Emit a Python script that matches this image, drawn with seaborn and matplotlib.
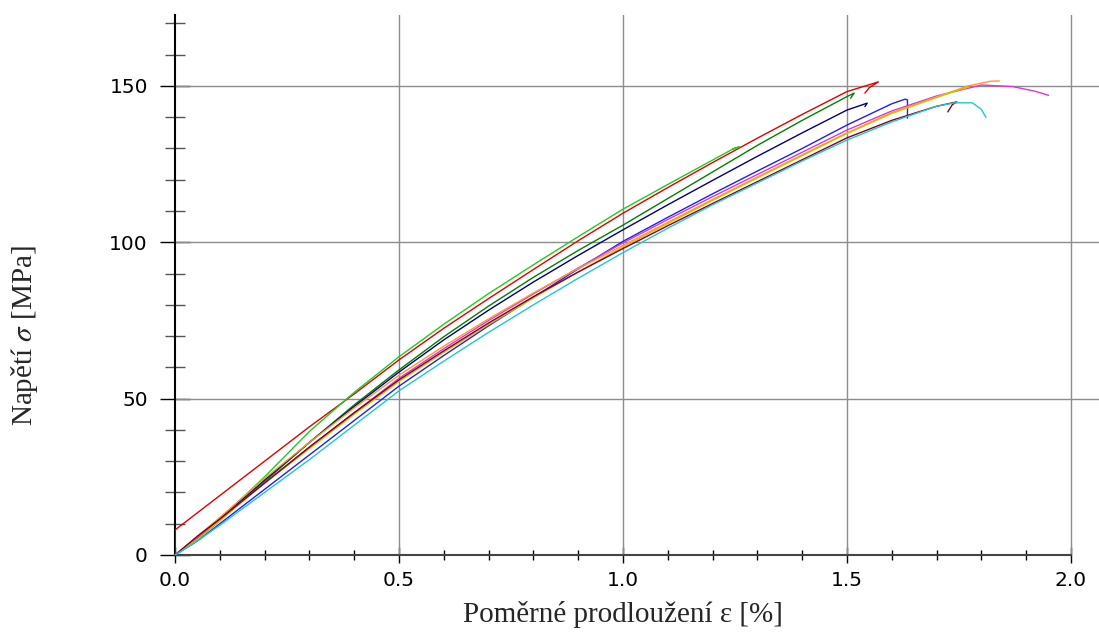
import numpy as np
import pandas as pd
import matplotlib
matplotlib.use("Agg")
import matplotlib.pyplot as plt
import seaborn as sns

# Odečtené hodnoty z grafu: poměrné prodloužení [%] a napětí [MPa]
red_eps = [0.0, 0.0, 0.05, 0.1, 0.15, 0.2, 0.3, 0.4, 0.5, 0.6, 0.7, 0.8, 0.9, 1.0, 1.1, 1.2, 1.3, 1.4, 1.5, 1.57, 1.55, 1.54]
red_sig = [0.0, 8.0, 13.5, 19.0, 24.5, 30.0, 41.0, 51.5, 62.4, 72.5, 82.0, 91.3, 100.5, 109.3, 117.5, 125.5, 133.3, 140.9, 148.2, 151.3, 149.5, 147.7]

lime_eps = [0.0, 0.05, 0.1, 0.2, 0.3, 0.4, 0.5, 0.6, 0.7, 0.8, 0.9, 1.0, 1.1, 1.2, 1.25, 1.26, 1.245]
lime_sig = [0.0, 5.0, 11.5, 25.0, 39.5, 52.0, 63.4, 73.8, 83.6, 92.8, 101.8, 110.6, 118.5, 126.3, 130.2, 130.5, 129.8]

green_eps = [0.0, 0.05, 0.1, 0.2, 0.3, 0.4, 0.5, 0.6, 0.7, 0.8, 0.9, 1.0, 1.1, 1.2, 1.3, 1.4, 1.5, 1.516, 1.508]
green_sig = [0.0, 5.0, 11.0, 23.5, 36.0, 48.0, 59.2, 69.8, 79.6, 88.8, 97.4, 105.5, 114.0, 122.5, 131.0, 139.0, 146.6, 147.7, 146.1]

navy_eps = [0.0, 0.05, 0.1, 0.2, 0.3, 0.4, 0.5, 0.6, 0.7, 0.8, 0.9, 1.0, 1.1, 1.2, 1.3, 1.4, 1.5, 1.545, 1.54]
navy_sig = [0.0, 5.5, 11.5, 24.0, 36.0, 47.5, 58.5, 68.8, 78.3, 87.3, 95.8, 104.0, 112.0, 119.8, 127.5, 135.0, 142.3, 144.5, 143.4]

blue_eps = [0.0, 0.05, 0.1, 0.2, 0.3, 0.4, 0.5, 0.6, 0.7, 0.8, 0.9, 1.0, 1.1, 1.2, 1.3, 1.4, 1.5, 1.6, 1.63, 1.635, 1.635]
blue_sig = [0.0, 4.5, 10.0, 21.0, 32.0, 43.0, 54.0, 63.8, 73.3, 82.4, 91.5, 100.3, 108.0, 115.5, 122.8, 130.0, 137.5, 144.3, 145.8, 145.5, 139.7]

magenta_eps = [0.0, 0.05, 0.1, 0.2, 0.3, 0.4, 0.5, 0.6, 0.7, 0.8, 0.9, 1.0, 1.1, 1.2, 1.3, 1.4, 1.5, 1.6, 1.7, 1.8, 1.87, 1.92, 1.95]
magenta_sig = [0.0, 5.5, 11.5, 23.0, 34.5, 45.5, 56.5, 66.0, 75.0, 83.5, 91.8, 99.8, 107.3, 114.6, 121.7, 128.8, 135.9, 142.0, 146.8, 150.3, 149.8, 148.3, 147.0]

orange_eps = [0.0, 0.05, 0.1, 0.2, 0.3, 0.4, 0.5, 0.6, 0.7, 0.8, 0.9, 1.0, 1.1, 1.2, 1.3, 1.4, 1.5, 1.6, 1.7, 1.77, 1.82, 1.84]
orange_sig = [0.0, 6.0, 12.0, 24.5, 36.0, 47.0, 57.5, 66.8, 75.5, 83.8, 91.6, 99.0, 106.4, 113.7, 120.9, 128.0, 135.0, 141.5, 146.5, 150.0, 151.5, 151.6]

yellow_eps = [0.0, 0.05, 0.1, 0.2, 0.3, 0.4, 0.5, 0.6, 0.7, 0.8, 0.9, 1.0, 1.1, 1.2, 1.3, 1.4, 1.5, 1.6, 1.7, 1.77, 1.76]
yellow_sig = [0.0, 5.0, 11.0, 23.0, 34.0, 45.0, 55.5, 64.8, 73.7, 82.2, 90.5, 98.5, 106.0, 113.4, 120.6, 127.7, 134.8, 141.2, 146.3, 149.7, 149.0]

maroon_eps = [0.0, 0.05, 0.1, 0.2, 0.3, 0.4, 0.5, 0.6, 0.7, 0.8, 0.9, 1.0, 1.1, 1.2, 1.3, 1.4, 1.5, 1.6, 1.7, 1.745, 1.735, 1.725]
maroon_sig = [0.0, 6.0, 11.5, 23.0, 34.5, 45.5, 56.0, 65.3, 74.2, 82.6, 90.5, 98.0, 105.3, 112.4, 119.4, 126.4, 133.4, 139.0, 143.5, 144.9, 144.0, 141.7]

cyan_eps = [0.0, 0.05, 0.1, 0.2, 0.3, 0.4, 0.5, 0.6, 0.7, 0.8, 0.9, 1.0, 1.1, 1.2, 1.3, 1.4, 1.5, 1.6, 1.7, 1.74, 1.78, 1.8, 1.81]
cyan_sig = [0.0, 4.5, 9.5, 20.0, 30.5, 41.5, 52.5, 62.0, 71.2, 80.0, 88.5, 96.7, 104.5, 112.0, 119.0, 126.0, 132.7, 138.5, 143.5, 144.6, 144.6, 142.5, 140.0]

curves = {
    "red": (red_eps, red_sig),
    "lime": (lime_eps, lime_sig),
    "green": (green_eps, green_sig),
    "navy": (navy_eps, navy_sig),
    "blue": (blue_eps, blue_sig),
    "magenta": (magenta_eps, magenta_sig),
    "orange": (orange_eps, orange_sig),
    "yellow": (yellow_eps, yellow_sig),
    "maroon": (maroon_eps, maroon_sig),
    "cyan": (cyan_eps, cyan_sig),
}

barvy = {
    "red": "#e00000",
    "lime": "#1fcc1f",
    "green": "#008000",
    "navy": "#000080",
    "blue": "#2020e8",
    "magenta": "#dd33dd",
    "orange": "#ff9a2a",
    "yellow": "#d4be00",
    "maroon": "#800020",
    "cyan": "#1ec8d2",
}

# dlouhý formát pro seaborn
rows = []
for name, (eps, sig) in curves.items():
    for i, (e, s) in enumerate(zip(eps, sig)):
        rows.append({"vzorek": name, "idx": i, "eps": e, "sig": s})
df = pd.DataFrame(rows)

sns.set_style("white")
plt.rcParams["font.family"] = ["DejaVu Sans"]
plt.rcParams["mathtext.fontset"] = "stix"

W, H = 1099, 632
fig = plt.figure(figsize=(W / 100, H / 100), dpi=100)
ax = fig.add_axes([175 / W, 77 / H, (W - 175) / W, 540 / H])

# mřížka
for gx in [0.5, 1.0, 1.5, 2.0]:
    ax.axvline(gx, color="#8c8c8c", lw=1.0, zorder=1)
for gy in [50, 100, 150]:
    ax.axhline(gy, color="#8c8c8c", lw=1.0, zorder=1)

sns.lineplot(data=df, x="eps", y="sig", hue="vzorek", palette=barvy,
             units="vzorek", estimator=None, sort=False, lw=1.0,
             legend=False, ax=ax, zorder=3)

ax.set_xlim(0, (W - 175) / 448)
ax.set_ylim(0, 540 / 3.127)

for s in ["top", "right"]:
    ax.spines[s].set_visible(False)
ax.spines["bottom"].set_bounds(0, 2.0)
ax.spines["bottom"].set_color("#444444")
ax.spines["bottom"].set_linewidth(1.5)
ax.spines["left"].set_color("black")
ax.spines["left"].set_linewidth(1.5)

ax.set_xticks([0.0, 0.5, 1.0, 1.5, 2.0])
ax.set_xticklabels(["0.0", "0.5", "1.0", "1.5", "2.0"])
ax.set_xticks(np.arange(0, 2.01, 0.1), minor=True)
ax.set_yticks([0, 50, 100, 150])
ax.set_yticklabels(["0", "50", "100", "150"])
ax.set_yticks(np.arange(0, 171, 10), minor=True)

ax.tick_params(which="both", bottom=True, left=True)
ax.tick_params(axis="x", which="major", direction="inout", length=11, width=1.0,
               pad=6, labelsize=14.5, colors="black")
ax.tick_params(axis="x", which="minor", direction="inout", length=6.5, width=1.0,
               color="black")
ax.tick_params(axis="y", which="major", direction="inout", length=21, width=1.0,
               pad=9, labelsize=14.5, colors="black")
ax.tick_params(axis="y", which="minor", direction="inout", length=14, width=1.0,
               color="#555555")
ax.set_xlabel("")
ax.set_ylabel("")

fig.text(623 / W, 1 - 615 / H, "Poměrné prodloužení ε [%]", ha="center", va="center",
         fontsize=21, family=["Liberation Serif", "DejaVu Serif"])
fig.text(25 / W, 1 - 336 / H, "Napětí $\\sigma$ [MPa]", ha="center", va="center",
         rotation=90, fontsize=21, family=["Liberation Serif", "DejaVu Serif"])

fig.savefig("out.png", dpi=100)
